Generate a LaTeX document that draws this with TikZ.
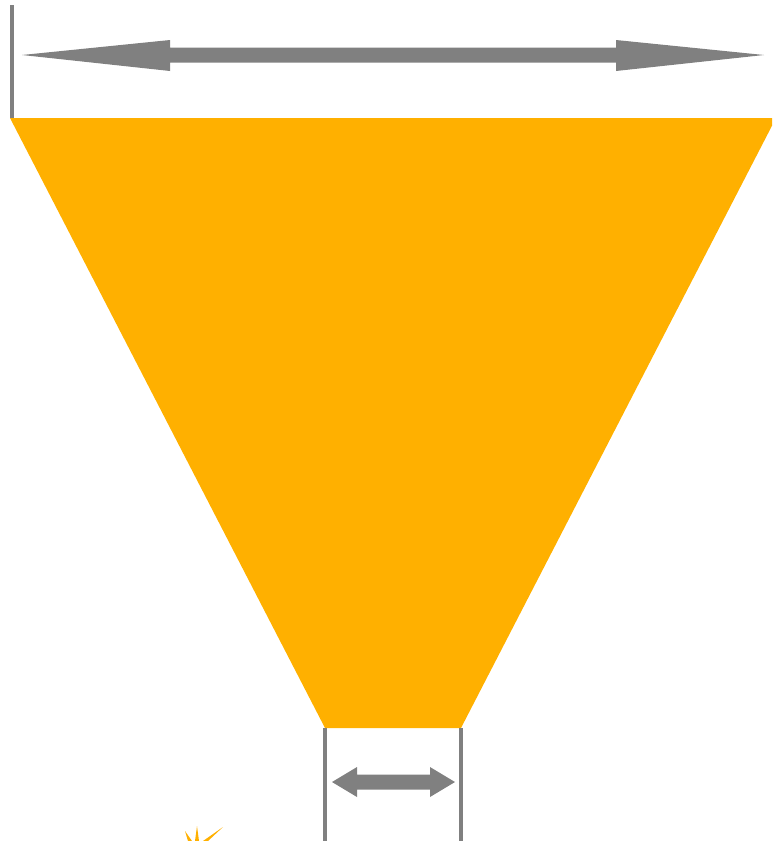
\documentclass[tikz,border=0pt]{standalone}
\definecolor{funnel}{RGB}{255,176,0}
\definecolor{dimgrey}{RGB}{128,128,128}
\tikzset{
  dimline/.style={draw=dimgrey, line width=4pt},
  dimarrow/.style={fill=dimgrey},
  funnelshape/.style={fill=funnel},
  spike/.style={fill=funnel}
}
\begin{document}
\begin{tikzpicture}[x=1pt,y=-1pt]
\useasboundingbox (0,0) rectangle (772,841);
\clip (0,0) rectangle (772,841);
% funnel
\coordinate (tl) at (10,118);
\coordinate (tr) at (776,118);
\coordinate (br) at (461,728);
\coordinate (bl) at (325,728);
\path[funnelshape] (tl) -- (tr) -- (br) -- (bl) -- cycle;
% top extension line
\draw[dimline] (12,5) -- (12,118);
% top double arrow
\path[dimarrow] (22,55) -- (170,40) -- (170,47.5) -- (616,47.5) -- (616,40) -- (764,55)
  -- (616,71) -- (616,62.5) -- (170,62.5) -- (170,71) -- cycle;
% bottom extension lines
\draw[dimline] (bl) -- (325,841);
\draw[dimline] (br) -- (461,841);
% bottom double arrow
\path[dimarrow] (332,782) -- (357,767) -- (357,774.5) -- (430,774.5) -- (430,767) -- (455,782)
  -- (430,797) -- (430,789.5) -- (357,789.5) -- (357,797) -- cycle;
% partial starburst at bottom left
\path[spike] (197,826) -- (199,841) -- (195,841) -- cycle;
\path[spike] (223,827) -- (208,841) -- (203,841) -- cycle;
\path[spike] (185,831) -- (192,841) -- (188,841) -- cycle;
\end{tikzpicture}
\end{document}
